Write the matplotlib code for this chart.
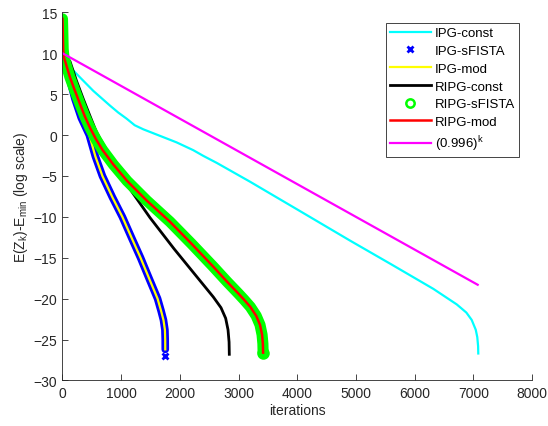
import matplotlib
matplotlib.use('Agg')
import matplotlib.pyplot as plt
from matplotlib.lines import Line2D

plt.rcParams['font.family'] = ['Liberation Sans', 'DejaVu Sans']
plt.rcParams['mathtext.fontset'] = 'custom'
plt.rcParams['mathtext.rm'] = 'Liberation Sans'
plt.rcParams['mathtext.it'] = 'Liberation Sans'

# values
ipg_const_x = [0, 50, 120, 184, 298, 525, 809, 950, 1093, 1230, 1377, 1661, 1945, 2228,
               2400, 2627, 3194, 4000, 4898, 5600, 6317, 6716, 6880, 6971, 7040, 7066,
               7080, 7083]
ipg_const_y = [10, 9.4, 8.6, 7.9, 7.05, 5.4, 3.6, 2.75, 2.0, 1.2, 0.7, -0.1, -0.9,
               -1.85, -2.55, -3.4, -5.7, -9.1, -12.9, -15.8, -18.8, -20.7, -21.7, -22.6,
               -23.8, -24.7, -25.8, -26.7]

ipg_mod_x = [0, 30, 100, 213, 320, 457, 560, 680, 850, 1020, 1180, 1330, 1480, 1620,
             1680, 1720, 1745, 1750, 1751]
ipg_mod_y = [10, 9.3, 7.5, 4.4, 2.1, 0, -2.6, -5.0, -7.6, -10, -12.6, -15, -17.6, -20,
             -21.5, -22.6, -23.8, -25.0, -26.2]
ipg_sfista_x = ipg_mod_x + [1751]
ipg_sfista_y = ipg_mod_y + [-27.0]

ripg_const_x = [0, 40, 128, 240, 355, 470, 582, 700, 809, 980, 1150, 1491, 1900, 2286,
                2570, 2700, 2780, 2820, 2838, 2842]
ripg_const_y = [10, 9.7, 9.0, 6.6, 4.4, 2.3, 0.3, -1.2, -2.5, -4.6, -6.6, -10.1, -13.9,
                -17.3, -19.8, -21.1, -22.4, -23.8, -25.3, -26.8]

ripg_mod_x = [0, 5, 12, 25, 128, 213, 298, 380, 468, 570, 680, 866, 1100, 1434, 1831,
              2200, 2570, 2800, 3000, 3090, 3200, 3300, 3365, 3400, 3414, 3418]
ripg_mod_y = [14.2, 12.8, 10.5, 9.5, 7.05, 5.4, 3.8, 2.3, 0.9, -0.5, -1.8, -3.6, -5.6,
              -8.0, -10.6, -13.3, -16.1, -17.9, -19.4, -20.1, -21.0, -22.1, -23.2, -24.4,
              -25.5, -26.6]
ripg_sfista_x = ripg_mod_x
ripg_sfista_y = ripg_mod_y

rate_x = [0, 7073]
rate_y = [10, -18.3]

fig = plt.figure(figsize=(5.48, 4.27), dpi=100)
ax = fig.add_axes([0.114, 0.1066, 0.857, 0.8622])

ax.plot(ipg_const_x, ipg_const_y, color='#00ffff', lw=1.6)
ax.plot(ipg_sfista_x[:-1], ipg_sfista_y[:-1], color='#0000ff', lw=5.5,
        solid_capstyle='round', solid_joinstyle='round')
ax.plot(ipg_sfista_x[-1:], ipg_sfista_y[-1:], 'x', color='#0000ff', ms=5, mew=2)
ax.plot(ipg_mod_x, ipg_mod_y, color='#ffff00', lw=1.6)
ax.plot(ripg_const_x, ripg_const_y, color='black', lw=2)
ax.plot(ripg_sfista_x, ripg_sfista_y, color='#00ff00', lw=8,
        solid_capstyle='round', solid_joinstyle='round')
ax.plot(ripg_sfista_x[-1:], ripg_sfista_y[-1:], 'o', color='#00ff00', mfc='none',
        ms=7, mew=2)
ax.plot(ripg_mod_x, ripg_mod_y, color='#ff0000', lw=1.8)
ax.plot(rate_x, rate_y, color='#ff00ff', lw=1.6)

ax.set_xlim(0, 8000)
ax.set_ylim(-30, 15)
ax.set_xticks(range(0, 8001, 1000))
ax.set_yticks(range(-30, 16, 5))
for s in ['top', 'right']:
    ax.spines[s].set_visible(False)
for s in ['left', 'bottom']:
    ax.spines[s].set_color('#262626')
    ax.spines[s].set_linewidth(0.6)
ax.tick_params(direction='in', length=4, width=0.6, colors='#262626',
               labelsize=10, pad=4)
ax.set_xlabel('iterations', fontsize=10, color='#262626', labelpad=2)
ax.set_ylabel(r'E(Z$_\mathrm{k}$)-E$_\mathrm{min}$ (log scale)', fontsize=10,
              color='#262626', labelpad=2)

handles = [
    Line2D([], [], color='#00ffff', lw=1.6),
    Line2D([], [], ls='none', marker='x', color='#0000ff', ms=5, mew=2),
    Line2D([], [], color='#ffff00', lw=1.6),
    Line2D([], [], color='black', lw=2),
    Line2D([], [], ls='none', marker='o', color='#00ff00', mfc='none', ms=6, mew=1.8),
    Line2D([], [], color='#ff0000', lw=1.8),
    Line2D([], [], color='#ff00ff', lw=1.6),
]
labels = ['IPG-const', 'IPG-sFISTA', 'IPG-mod', 'RIPG-const', 'RIPG-sFISTA',
          'RIPG-mod', r'(0.996)$^\mathrm{k}$']
leg = ax.legend(handles, labels, loc='upper right', bbox_to_anchor=(0.972, 0.971),
                borderaxespad=0, fontsize=9.5, fancybox=False, framealpha=1,
                handlelength=3.1, handletextpad=0.3, labelspacing=0.42,
                borderpad=0.3)
leg.get_frame().set_edgecolor('#262626')
leg.get_frame().set_linewidth(0.6)

fig.savefig('out.png', dpi=100)
